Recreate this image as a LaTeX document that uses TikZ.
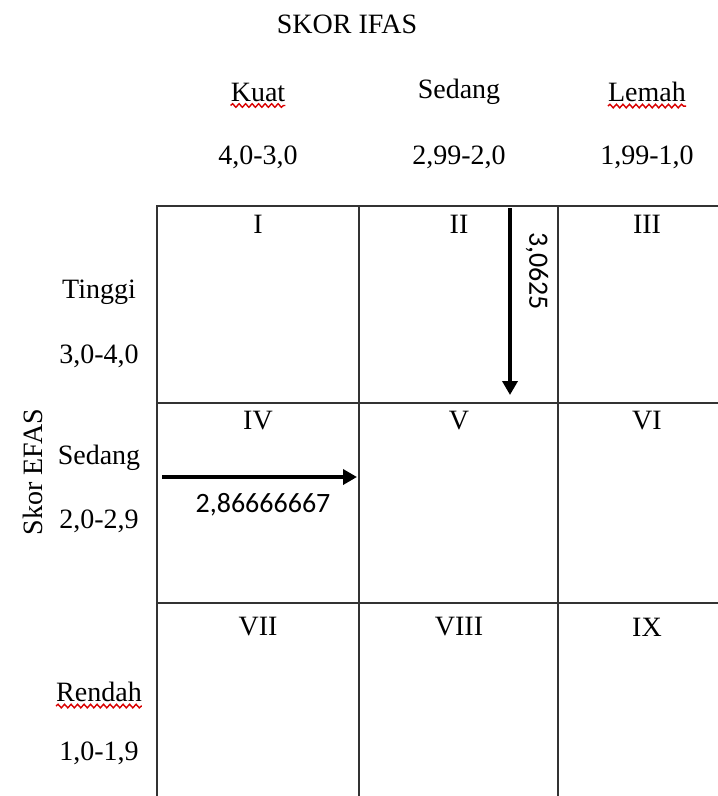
\documentclass[tikz,border=0pt]{standalone}
\usepackage{fontspec}
\setmainfont{Liberation Serif}
\newfontfamily\calib{Carlito}
\usetikzlibrary{decorations.pathmorphing,arrows.meta}
\begin{document}
\begin{tikzpicture}[x=1pt,y=-1pt,
  txt/.style={font=\fontsize{28}{31}\selectfont, inner sep=0pt},
  lbl/.style={font=\calib\fontsize{28}{31}\selectfont, inner sep=0pt},
  gridline/.style={line width=1.8pt, draw=black!80},
  arr/.style={line width=3.5pt, -{Triangle[length=14pt,width=15pt]}},
  wavy/.style={red!85!black, line width=1.4pt, decorate, decoration={snake, amplitude=1.8pt, segment length=6.5pt}}]
\useasboundingbox (0,0) rectangle (718,796);
% grid
\draw[gridline] (157,206) -- (718,206);
\draw[gridline] (157,403) -- (718,403);
\draw[gridline] (157,603) -- (718,603);
\draw[gridline] (157,205) -- (157,796);
\draw[gridline] (359,205) -- (359,796);
\draw[gridline] (558,205) -- (558,796);
% headers
\node[txt] (ifas) at (347,24) {SKOR IFAS};
\node[txt] (kuat) at (258,92) {Kuat};
\node[txt] (sedangc) at (459,92) {Sedang};
\node[txt] (lemah) at (647,92) {Lemah};
\node[txt] (r1) at (258,157) {4,0-3,0};
\node[txt] (r2) at (459,157) {2,99-2,0};
\node[txt] (r3) at (647,157) {1,99-1,0};
% cells
\node[txt] (c1) at (258,224) {I};
\node[txt] (c2) at (459,224) {II};
\node[txt] (c3) at (647,224) {III};
\node[txt] (c4) at (258,421) {IV};
\node[txt] (c5) at (459,421) {V};
\node[txt] (c6) at (647,421) {VI};
\node[txt] (c7) at (258,627) {VII};
\node[txt] (c8) at (459,627) {VIII};
\node[txt] (c9) at (647,627) {IX};
% row labels
\node[txt] (tinggi) at (99,292) {Tinggi};
\node[txt] (t1) at (99,356) {3,0-4,0};
\node[txt] (sedangr) at (99,458) {Sedang};
\node[txt] (t2) at (99,521) {2,0-2,9};
\node[txt] (rendah) at (99,692) {Rendah};
\node[txt] (t3) at (99,753) {1,0-1,9};
\node[txt, rotate=90] (efas) at (33,472) {Skor EFAS};
% wavy underlines
\draw[wavy] ([yshift=-4pt]kuat.south west) -- ([yshift=-4pt]kuat.south east);
\draw[wavy] ([yshift=-4pt]lemah.south west) -- ([yshift=-4pt]lemah.south east);
\draw[wavy] ([yshift=-4pt]rendah.south west) -- ([yshift=-4pt]rendah.south east);
% arrows
\coordinate (va) at (510,208);
\coordinate (vb) at (510,395);
\draw[arr] (va) -- (vb);
\node[lbl, rotate=-90] (v1) at (537,271) {3,0625};
\coordinate (ha) at (162,477);
\coordinate (hb) at (357,477);
\draw[arr] (ha) -- (hb);
\node[lbl] (v2) at (263,505) {2,86666667};
\end{tikzpicture}
\end{document}
